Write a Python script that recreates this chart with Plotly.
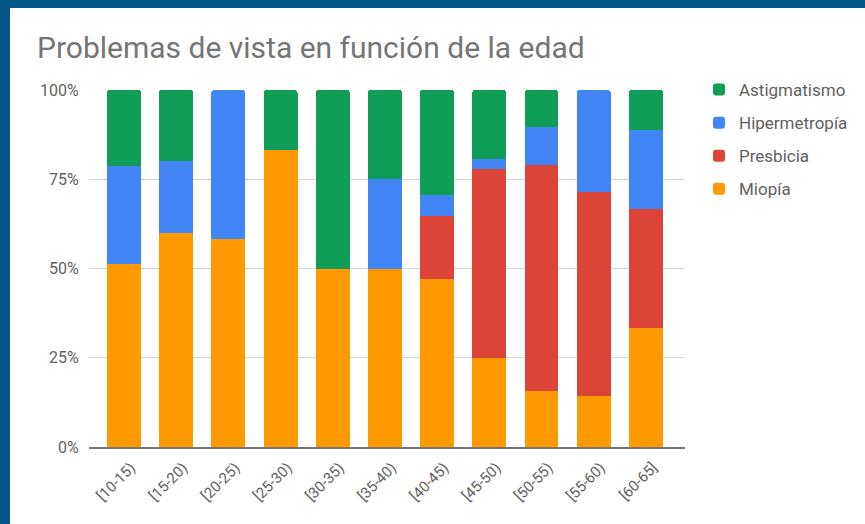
import plotly.graph_objects as go

# age ranges and share (%) of each vision problem
age_ranges = ["[10-15)", "[15-20)", "[20-25)", "[25-30)", "[30-35)", "[35-40)",
              "[40-45)", "[45-50)", "[50-55)", "[55-60)", "[60-65]"]
miopia = [51.4, 60.0, 58.3, 83.3, 50.0, 50.0, 47.1, 25.0, 15.8, 14.3, 33.3]
presbicia = [0, 0, 0, 0, 0, 0, 17.6, 52.8, 63.2, 57.1, 33.3]
hipermetropia = [27.3, 20.0, 41.7, 0, 0, 25.0, 5.9, 2.8, 10.5, 28.6, 22.2]
astigmatismo = [21.3, 20.0, 0, 16.7, 50.0, 25.0, 29.4, 19.4, 10.5, 0, 11.2]

# stacked bottom -> top; legend lists them top -> bottom
series = [
    ("Miopía", miopia, "#ff9900"),
    ("Presbicia", presbicia, "#db4437"),
    ("Hipermetropía", hipermetropia, "#4285f4"),
    ("Astigmatismo", astigmatismo, "#0f9d58"),
]

FONT = "Roboto, Arial, sans-serif"
GREY = "#616161"

fig = go.Figure()
for i, (name, vals, col) in enumerate(series):
    fig.add_trace(go.Bar(
        x=age_ranges, y=vals, name=name, legendgroup=name,
        legendrank=len(series) - i,
        marker=dict(color=col, line=dict(width=0)),
    ))

# plot area: x 89..685, y 90..447 px
L, R, T, B = 89, 865 - 685, 90, 524 - 447
pw, ph = 865 - L - R, 524 - T - B

def px_x(p):
    return (p - L) / pw

def px_y(p):
    return (524 - B - p) / ph

fig.update_layout(
    width=865, height=524,
    margin=dict(l=L, r=R, t=T, b=B),
    paper_bgcolor="#065789",
    plot_bgcolor="white",
    barmode="stack",
    bargap=0.35,
    barcornerradius=3,
    font=dict(family=FONT, color=GREY, size=15),
    title=dict(text="Problemas de vista en función de la edad",
               font=dict(size=30, color="#757575", family=FONT),
               x=37 / 865, xanchor="left", y=1 - 47 / 524, yanchor="middle"),
    legend=dict(traceorder="grouped", x=px_x(699), xanchor="left",
                y=px_y(72), yanchor="top", font=dict(size=17, color=GREY),
                tracegroupgap=8, bgcolor="rgba(0,0,0,0)"),
    shapes=[dict(type="rect", xref="paper", yref="paper", layer="below",
                 x0=px_x(10), x1=px_x(866), y0=px_y(526), y1=px_y(8),
                 fillcolor="white", line=dict(width=0))],
)
fig.update_xaxes(range=[-0.67, 10.75], tickangle=-45, showgrid=False,
                 showline=True, linecolor="#757575", linewidth=2,
                 ticks="", ticklabelshift=7, ticklabelstandoff=4,
                 tickfont=dict(size=15, color=GREY))
fig.update_yaxes(range=[0, 100], tickvals=[0, 25, 50, 75, 100],
                 ticktext=["0%", "25%", "50%", "75%", "100%"],
                 gridcolor="#d6d6d6", gridwidth=1, zeroline=False,
                 ticks="outside", ticklen=6, tickcolor="white",
                 tickfont=dict(size=16, color=GREY))

# drop the page's default body margin so the figure fills the window
fig.write_html("out.html", config={"displayModeBar": False},
               post_script="document.body.style.margin='0';")
